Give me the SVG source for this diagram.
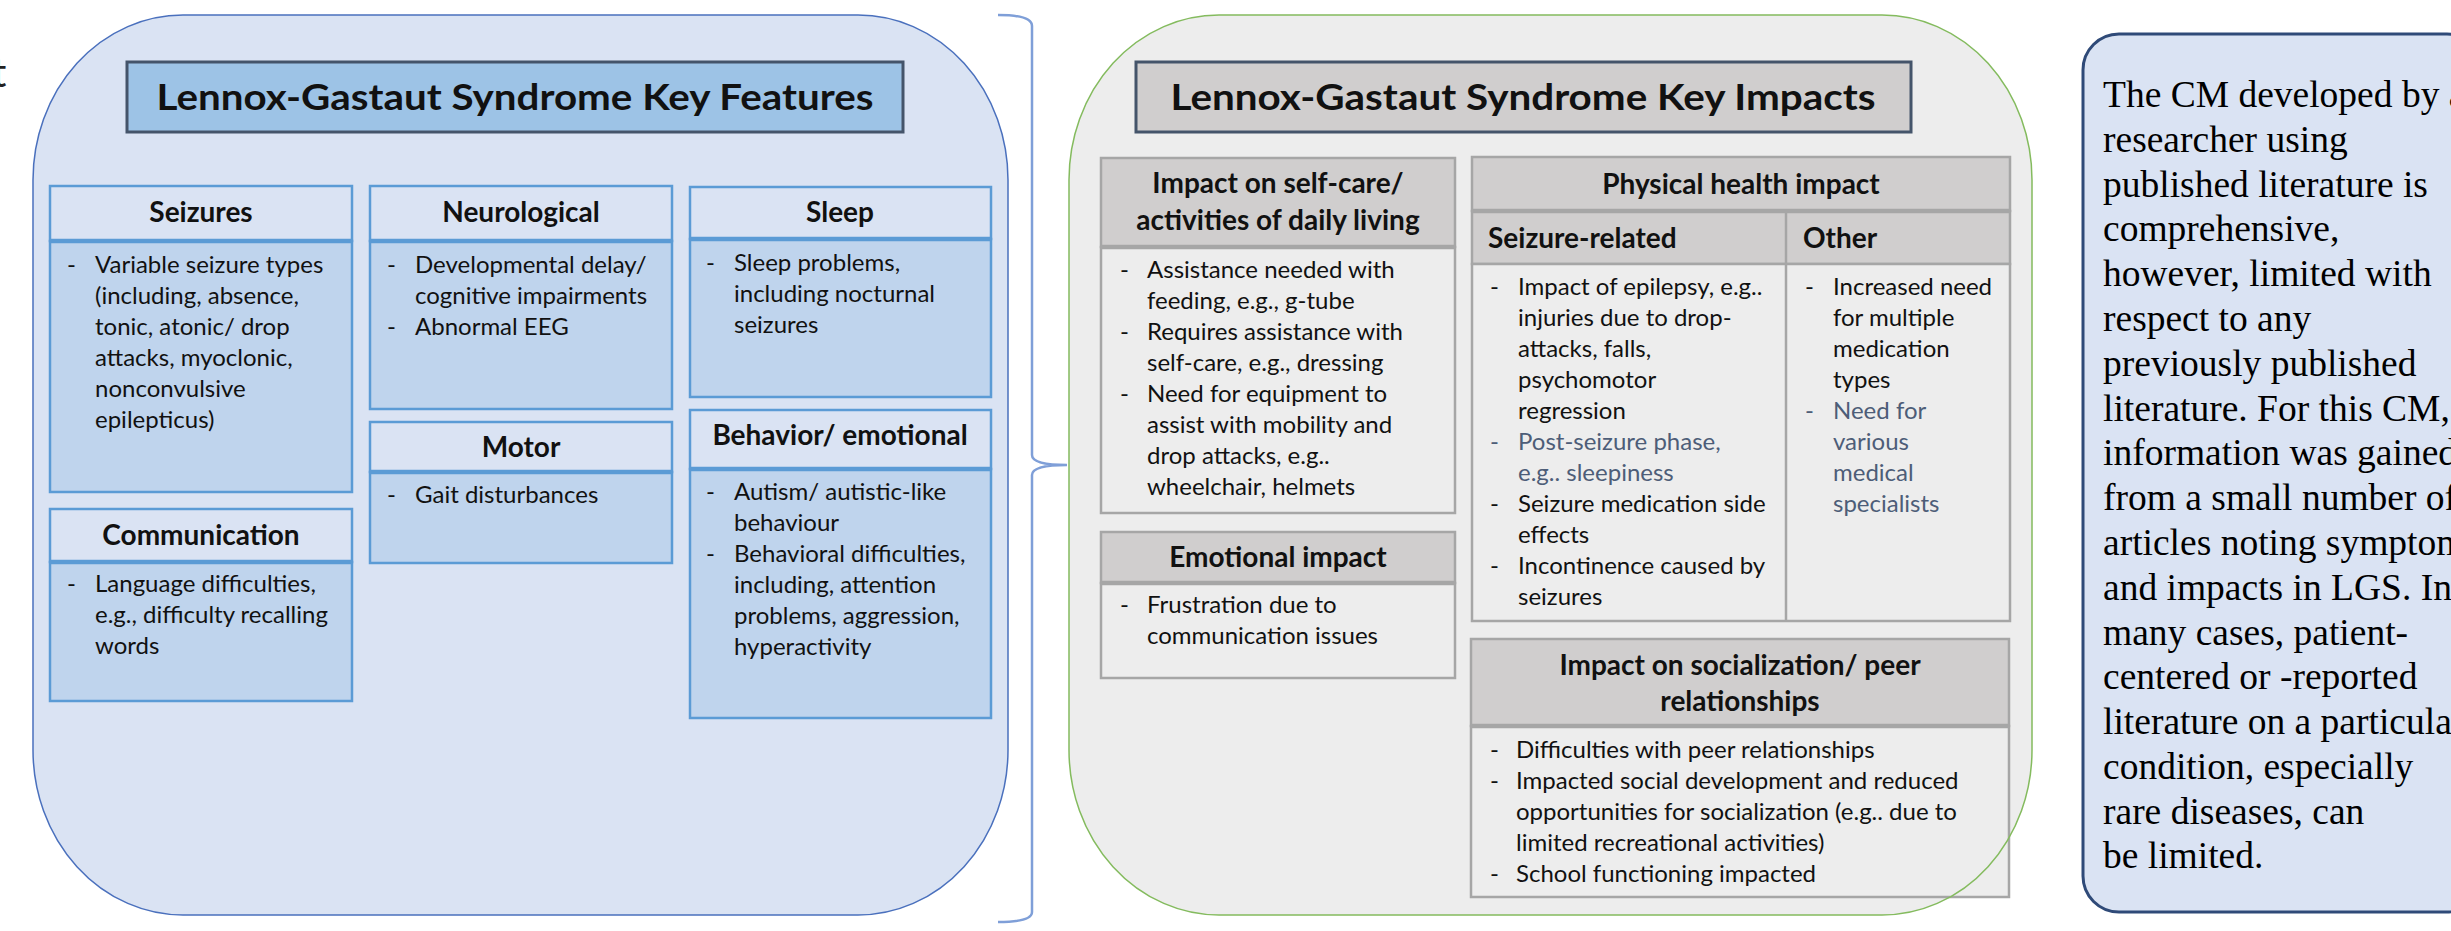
<svg xmlns="http://www.w3.org/2000/svg" width="2451" height="931" viewBox="0 0 2451 931">
  <style>
    text { font-family: "Lato", "Open Sans", sans-serif; fill: #111; }
    .title { font-size: 37px; font-weight: bold; text-anchor: middle; }
    .hd { font-size: 28px; font-weight: bold; text-anchor: middle; }
    .hdl { font-size: 28px; font-weight: bold; }
    .tx { font-size: 24px; }
    .muted { fill: #4d5d78; }
    .note { font-family: "Liberation Serif", "Times New Roman", serif; font-size: 37.5px; fill: #000; }
    .panelL { fill: #dae3f3; }
    .panelR { fill: #ededed; }
    .edgeL { fill: none; stroke: #4a70bd; stroke-width: 1.5; }
    .edgeR { fill: none; stroke: #84bb5e; stroke-width: 1.5; }
    .titleL { fill: #9dc3e6; stroke: #44546a; stroke-width: 3; }
    .titleR { fill: #d0cece; stroke: #44546a; stroke-width: 3; }
    .hL { fill: #dae3f3; stroke: #5b9bd5; stroke-width: 2.5; }
    .bL { fill: #bfd4ed; stroke: #5b9bd5; stroke-width: 2.5; }
    .sepL { stroke: #5b9bd5; stroke-width: 4.5; }
    .hR { fill: #d0cece; stroke: #a6a6a6; stroke-width: 2.5; }
    .bR { fill: #ededed; stroke: #a6a6a6; stroke-width: 2.5; }
    .sepR { stroke: #a6a6a6; stroke-width: 4.5; }
    .brace { fill: none; stroke: #7f9fd8; stroke-width: 2.5; }
  </style>

  <!-- clipped letter at the far left edge -->
  <text x="-8" y="87" style="font-size:40px;fill:#222">t</text>

  <!-- Key features panel -->
  <g id="features-panel">
    <path class="panelL" d="M183,15 H858 A150,165 0 0 1 1008,180 V750 A150,165 0 0 1 858,915 H183 A150,165 0 0 1 33,750 V180 A150,165 0 0 1 183,15 Z"/>
    <path class="edgeL" d="M183,15 H858 A150,165 0 0 1 1008,180 V750 A150,165 0 0 1 858,915 H183 A150,165 0 0 1 33,750 V180 A150,165 0 0 1 183,15 Z"/>
  </g>

  <g id="features-title">
    <rect class="titleL" x="127" y="62" width="776" height="70"/>
    <text class="title" x="515" y="110" textLength="717" lengthAdjust="spacingAndGlyphs">Lennox-Gastaut Syndrome Key Features</text>
  </g>

  <g id="seizures">
    <rect class="hL" x="50" y="186" width="302" height="55"/>
    <rect class="bL" x="50" y="241" width="302" height="251"/>
    <line class="sepL" x1="50" y1="241" x2="352" y2="241"/>
    <text class="hd" x="201" y="222">Seizures</text>
    <text class="tx" x="67" y="273">-</text>
    <text class="tx" x="95" y="273">Variable seizure types</text>
    <text class="tx" x="95" y="304">(including, absence,</text>
    <text class="tx" x="95" y="335">tonic, atonic/ drop</text>
    <text class="tx" x="95" y="366">attacks, myoclonic,</text>
    <text class="tx" x="95" y="397">nonconvulsive</text>
    <text class="tx" x="95" y="428">epilepticus)</text>
  </g>

  <g id="neurological">
    <rect class="hL" x="370" y="186" width="302" height="55"/>
    <rect class="bL" x="370" y="241" width="302" height="168"/>
    <line class="sepL" x1="370" y1="241" x2="672" y2="241"/>
    <text class="hd" x="521" y="222">Neurological</text>
    <text class="tx" x="387" y="273">-</text>
    <text class="tx" x="415" y="273">Developmental delay/</text>
    <text class="tx" x="415" y="304">cognitive impairments</text>
    <text class="tx" x="387" y="335">-</text>
    <text class="tx" x="415" y="335">Abnormal EEG</text>
  </g>

  <g id="sleep">
    <rect class="hL" x="690" y="187" width="301" height="52"/>
    <rect class="bL" x="690" y="239" width="301" height="158"/>
    <line class="sepL" x1="690" y1="239" x2="991" y2="239"/>
    <text class="hd" x="840" y="222">Sleep</text>
    <text class="tx" x="706" y="271">-</text>
    <text class="tx" x="734" y="271">Sleep problems,</text>
    <text class="tx" x="734" y="302">including nocturnal</text>
    <text class="tx" x="734" y="333">seizures</text>
  </g>

  <g id="communication">
    <rect class="hL" x="50" y="509" width="302" height="53"/>
    <rect class="bL" x="50" y="562" width="302" height="139"/>
    <line class="sepL" x1="50" y1="562" x2="352" y2="562"/>
    <text class="hd" x="201" y="545">Communication</text>
    <text class="tx" x="67" y="592">-</text>
    <text class="tx" x="95" y="592">Language difficulties,</text>
    <text class="tx" x="95" y="623">e.g., difficulty recalling</text>
    <text class="tx" x="95" y="654">words</text>
  </g>

  <g id="motor">
    <rect class="hL" x="370" y="422" width="302" height="50"/>
    <rect class="bL" x="370" y="472" width="302" height="91"/>
    <line class="sepL" x1="370" y1="472" x2="672" y2="472"/>
    <text class="hd" x="521" y="457">Motor</text>
    <text class="tx" x="387" y="503">-</text>
    <text class="tx" x="415" y="503">Gait disturbances</text>
  </g>

  <g id="behavior-emotional">
    <rect class="hL" x="690" y="410" width="301" height="59"/>
    <rect class="bL" x="690" y="469" width="301" height="249"/>
    <line class="sepL" x1="690" y1="469" x2="991" y2="469"/>
    <text class="hd" x="840" y="445">Behavior/ emotional</text>
    <text class="tx" x="706" y="500">-</text>
    <text class="tx" x="734" y="500">Autism/ autistic-like</text>
    <text class="tx" x="734" y="531">behaviour</text>
    <text class="tx" x="706" y="562">-</text>
    <text class="tx" x="734" y="562">Behavioral difficulties,</text>
    <text class="tx" x="734" y="593">including, attention</text>
    <text class="tx" x="734" y="624">problems, aggression,</text>
    <text class="tx" x="734" y="655">hyperactivity</text>
  </g>

  <!-- brace joining features to impacts -->
  <g id="connectors">
    <path class="brace" d="M998,15 Q1032,15 1032,26 L1032,455 Q1032,465 1067,465 Q1032,465 1032,475 L1032,912 Q1032,922 998,922"/>
  </g>

  <!-- Key impacts panel -->
  <g id="impacts-panel">
    <path class="panelR" d="M1219,15 H1882 A150,165 0 0 1 2032,180 V750 A150,165 0 0 1 1882,915 H1219 A150,165 0 0 1 1069,750 V180 A150,165 0 0 1 1219,15 Z"/>
  </g>

  <g id="impacts-title">
    <rect class="titleR" x="1136" y="62" width="775" height="70"/>
    <text class="title" x="1523" y="110" textLength="705" lengthAdjust="spacingAndGlyphs">Lennox-Gastaut Syndrome Key Impacts</text>
  </g>

  <g id="self-care">
    <rect class="hR" x="1101" y="158" width="354" height="89"/>
    <rect class="bR" x="1101" y="247" width="354" height="266"/>
    <line class="sepR" x1="1101" y1="247" x2="1455" y2="247"/>
    <text class="hd" x="1278" y="193">Impact on self-care/</text>
    <text class="hd" x="1278" y="230">activities of daily living</text>
    <text class="tx" x="1120" y="278">-</text>
    <text class="tx" x="1147" y="278">Assistance needed with</text>
    <text class="tx" x="1147" y="309">feeding, e.g., g-tube</text>
    <text class="tx" x="1120" y="340">-</text>
    <text class="tx" x="1147" y="340">Requires assistance with</text>
    <text class="tx" x="1147" y="371">self-care, e.g., dressing</text>
    <text class="tx" x="1120" y="402">-</text>
    <text class="tx" x="1147" y="402">Need for equipment to</text>
    <text class="tx" x="1147" y="433">assist with mobility and</text>
    <text class="tx" x="1147" y="464">drop attacks, e.g..</text>
    <text class="tx" x="1147" y="495">wheelchair, helmets</text>
  </g>

  <g id="emotional-impact">
    <rect class="hR" x="1101" y="532" width="354" height="51"/>
    <rect class="bR" x="1101" y="583" width="354" height="95"/>
    <line class="sepR" x1="1101" y1="583" x2="1455" y2="583"/>
    <text class="hd" x="1278" y="567">Emotional impact</text>
    <text class="tx" x="1120" y="613">-</text>
    <text class="tx" x="1147" y="613">Frustration due to</text>
    <text class="tx" x="1147" y="644">communication issues</text>
  </g>

  <g id="physical-health">
    <rect class="hR" x="1472" y="157" width="538" height="54"/>
    <rect class="hR" x="1472" y="211" width="538" height="53"/>
    <rect class="bR" x="1472" y="264" width="538" height="357"/>
    <line class="sepR" x1="1472" y1="211" x2="2010" y2="211"/>
    <line class="bR" x1="1786" y1="211" x2="1786" y2="621"/>
    <text class="hd" x="1741" y="194">Physical health impact</text>
    <text class="hdl" x="1488" y="248">Seizure-related</text>
    <text class="hdl" x="1803" y="248">Other</text>
    <text class="tx" x="1490" y="295">-</text>
    <text class="tx" x="1518" y="295">Impact of epilepsy, e.g..</text>
    <text class="tx" x="1518" y="326">injuries due to drop-</text>
    <text class="tx" x="1518" y="357">attacks, falls,</text>
    <text class="tx" x="1518" y="388">psychomotor</text>
    <text class="tx" x="1518" y="419">regression</text>
    <text class="tx muted" x="1490" y="450">-</text>
    <text class="tx muted" x="1518" y="450">Post-seizure phase,</text>
    <text class="tx muted" x="1518" y="481">e.g.. sleepiness</text>
    <text class="tx" x="1490" y="512">-</text>
    <text class="tx" x="1518" y="512">Seizure medication side</text>
    <text class="tx" x="1518" y="543">effects</text>
    <text class="tx" x="1490" y="574">-</text>
    <text class="tx" x="1518" y="574">Incontinence caused by</text>
    <text class="tx" x="1518" y="605">seizures</text>
    <text class="tx" x="1805" y="295">-</text>
    <text class="tx" x="1833" y="295">Increased need</text>
    <text class="tx" x="1833" y="326">for multiple</text>
    <text class="tx" x="1833" y="357">medication</text>
    <text class="tx" x="1833" y="388">types</text>
    <text class="tx muted" x="1805" y="419">-</text>
    <text class="tx muted" x="1833" y="419">Need for</text>
    <text class="tx muted" x="1833" y="450">various</text>
    <text class="tx muted" x="1833" y="481">medical</text>
    <text class="tx muted" x="1833" y="512">specialists</text>
  </g>

  <g id="socialization">
    <rect class="hR" x="1471" y="639" width="538" height="87"/>
    <rect class="bR" x="1471" y="726" width="538" height="171"/>
    <line class="sepR" x1="1471" y1="726" x2="2009" y2="726"/>
    <text class="hd" x="1740" y="675">Impact on socialization/ peer</text>
    <text class="hd" x="1740" y="711">relationships</text>
    <text class="tx" x="1490" y="758">-</text>
    <text class="tx" x="1516" y="758">Difficulties with peer relationships</text>
    <text class="tx" x="1490" y="789">-</text>
    <text class="tx" x="1516" y="789">Impacted social development and reduced</text>
    <text class="tx" x="1516" y="820">opportunities for socialization (e.g.. due to</text>
    <text class="tx" x="1516" y="851">limited recreational activities)</text>
    <text class="tx" x="1490" y="882">-</text>
    <text class="tx" x="1516" y="882">School functioning impacted</text>
  </g>

  <!-- impacts panel outline, drawn over the boxes it crosses -->
  <g id="impacts-outline">
    <path class="edgeR" d="M1219,15 H1882 A150,165 0 0 1 2032,180 V750 A150,165 0 0 1 1882,915 H1219 A150,165 0 0 1 1069,750 V180 A150,165 0 0 1 1219,15 Z"/>
  </g>

  <!-- explanatory note -->
  <g id="note">
    <rect x="2083" y="34" width="400" height="878" rx="36" ry="36" fill="#dae3f3" stroke="#2f4a78" stroke-width="3"/>
    <text class="note" x="2103" y="107">The CM developed by a</text>
    <text class="note" x="2103" y="152">researcher using</text>
    <text class="note" x="2103" y="197">published literature is</text>
    <text class="note" x="2103" y="241">comprehensive,</text>
    <text class="note" x="2103" y="286">however, limited with</text>
    <text class="note" x="2103" y="331">respect to any</text>
    <text class="note" x="2103" y="376">previously published</text>
    <text class="note" x="2103" y="421">literature. For this CM,</text>
    <text class="note" x="2103" y="465">information was gained</text>
    <text class="note" x="2103" y="510">from a small number of</text>
    <text class="note" x="2103" y="555">articles noting symptoms</text>
    <text class="note" x="2103" y="600">and impacts in LGS. In</text>
    <text class="note" x="2103" y="645">many cases, patient-</text>
    <text class="note" x="2103" y="689">centered or -reported</text>
    <text class="note" x="2103" y="734">literature on a particular</text>
    <text class="note" x="2103" y="779">condition, especially</text>
    <text class="note" x="2103" y="824">rare diseases, can</text>
    <text class="note" x="2103" y="868">be limited.</text>
  </g>
</svg>
